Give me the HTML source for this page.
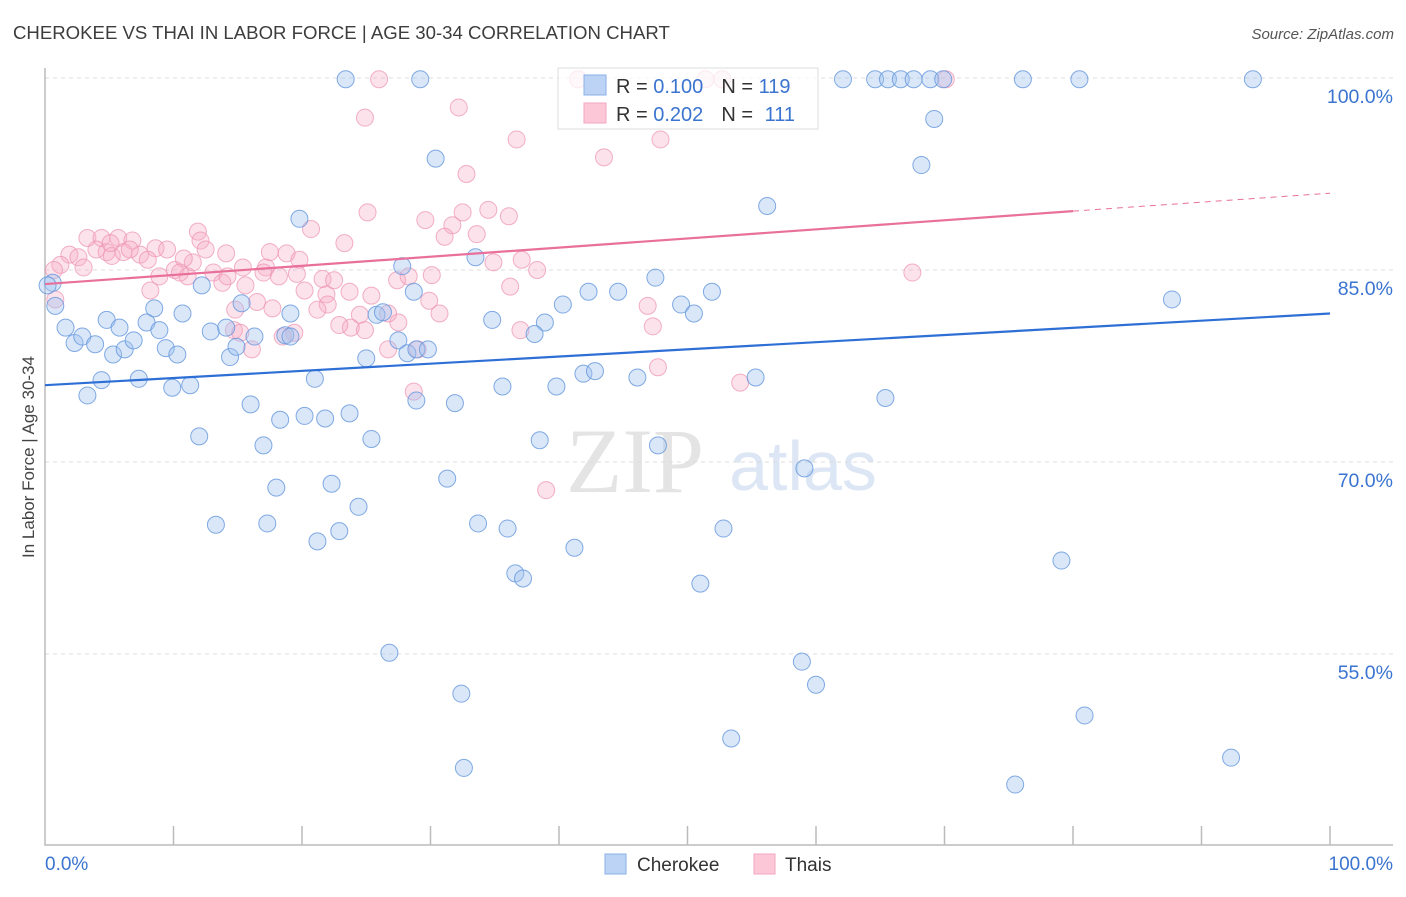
<!DOCTYPE html>
<html><head><meta charset="utf-8"><style>
html,body{margin:0;padding:0;background:#fff;}
body{width:1406px;height:892px;overflow:hidden;font-family:"Liberation Sans",sans-serif;}
</style></head><body>
<svg id="chart" width="1406" height="892" xmlns="http://www.w3.org/2000/svg" font-family="Liberation Sans, sans-serif">
<text x="13" y="39" font-size="18.6" fill="#3d3d3d">CHEROKEE VS THAI IN LABOR FORCE | AGE 30-34 CORRELATION CHART</text>
<text x="1394" y="39" font-size="15" fill="#555" font-style="italic" text-anchor="end">Source: ZipAtlas.com</text>
<text transform="translate(34,457) rotate(-90)" font-size="17" fill="#444" text-anchor="middle">In Labor Force | Age 30-34</text>
<g>
<text x="635" y="492" font-size="92" font-family="Liberation Serif, serif" fill="#e4e4e4" text-anchor="middle">ZIP</text>
<text x="803" y="490" font-size="70" fill="#dce6f4" text-anchor="middle">atlas</text>
</g>
<g id="grid"></g>
<g id="axes"></g>
<g id="pts"></g>
<g id="lines"></g>
<g>
<rect x="558" y="68" width="260" height="61" fill="rgba(255,255,255,0.75)" stroke="#ddd"/>
<rect x="584" y="75" width="22" height="20" fill="#bcd3f5" stroke="#8ab0e8"/>
<rect x="584" y="103" width="22" height="20" fill="#fcc8d8" stroke="#f2a6bf"/>
<text x="616" y="93" font-size="20" fill="#333">R = <tspan fill="#3a74d0">0.100</tspan><tspan dx="18">N = </tspan><tspan fill="#3a74d0">119</tspan></text>
<text x="616" y="121" font-size="20" fill="#333">R = <tspan fill="#3a74d0">0.202</tspan><tspan dx="18">N = </tspan><tspan fill="#3a74d0" dx="6">111</tspan></text>
</g>
<g>
<rect x="605" y="854" width="21" height="20" fill="#bcd3f5" stroke="#8ab0e8"/>
<text x="637" y="871" font-size="19" fill="#333">Cherokee</text>
<rect x="754" y="854" width="21" height="20" fill="#fcc8d8" stroke="#f2a6bf"/>
<text x="785" y="871" font-size="19" fill="#333">Thais</text>
</g>
</svg>
<script>
const cheX=[23.4,29.2,62.1,64.6,65.6,66.6,67.6,68.9,69.9,76.1,80.5,94.0,69.2,30.4,68.2,56.2,19.8,33.5,27.8,47.5,0.6,0.8,1.6,2.3,2.9,3.9,4.8,5.8,5.3,6.2,6.9,7.9,8.5,8.9,9.4,10.3,10.7,4.4,3.3,7.3,9.9,11.3,12.2,12.9,14.1,14.4,14.9,15.3,16.3,16.0,18.7,19.1,19.1,17.0,12.0,18.3,20.2,21.8,23.7,21.0,25.0,25.8,26.3,25.4,27.5,28.2,28.9,29.8,28.7,28.9,31.9,34.8,35.6,38.9,38.1,40.3,42.3,44.6,39.8,41.9,42.8,46.1,49.5,50.5,51.9,55.3,38.5,47.7,59.1,65.4,87.7,31.3,18.0,22.3,24.4,13.3,17.3,21.2,22.9,33.7,36.0,41.2,52.8,36.6,37.2,51.0,79.1,26.8,32.4,58.9,60.0,80.9,53.4,32.6,92.3,75.5,0.2];
const cheY=[99.9,99.9,99.9,99.9,99.9,99.9,99.9,99.9,99.9,99.9,99.9,99.9,96.8,93.7,93.2,90.0,89.0,86.0,85.3,84.4,84.0,82.2,80.5,79.3,79.8,79.2,81.1,80.5,78.4,78.8,79.5,80.9,82.0,80.3,78.9,78.4,81.6,76.4,75.2,76.5,75.8,76.0,83.8,80.2,80.5,78.2,79.0,82.4,79.8,74.5,79.9,81.6,79.8,71.3,72.0,73.3,73.6,73.4,73.8,76.5,78.1,81.5,81.7,71.8,79.5,78.5,78.8,78.8,83.3,74.8,74.6,81.1,75.9,80.9,80.0,82.3,83.3,83.3,75.9,76.9,77.1,76.6,82.3,81.6,83.3,76.6,71.7,71.3,69.5,75.0,82.7,68.7,68.0,68.3,66.5,65.1,65.2,63.8,64.6,65.2,64.8,63.3,64.8,61.3,60.9,60.5,62.3,55.1,51.9,54.4,52.6,50.2,48.4,46.1,46.9,44.8,83.8];
const thaX=[26.0,41.5,51.4,52.7,70.1,24.9,32.2,36.7,43.5,47.9,32.8,25.1,29.6,32.5,34.5,36.1,31.7,31.1,33.6,20.7,23.3,3.3,4.4,5.7,6.8,11.9,12.1,14.1,12.5,8.6,9.5,4.0,4.8,1.9,2.6,1.2,3.0,5.2,6.1,7.4,8.0,8.9,10.1,11.1,11.5,10.8,13.1,13.8,15.4,15.6,14.2,17.2,17.0,17.5,18.8,19.8,19.6,18.2,20.2,21.6,21.9,22.0,22.5,23.7,25.4,27.4,28.3,30.1,34.9,37.1,38.3,36.2,29.9,30.7,27.5,26.7,24.5,23.8,22.9,21.2,19.4,18.5,17.7,14.8,16.1,14.7,15.2,29.0,26.7,28.7,37.0,46.9,47.3,47.7,54.1,67.5,39.0,0.7,0.8,5.1,6.6,10.5,8.2,16.5,24.9];
const thaY=[99.9,99.9,99.9,99.9,99.9,96.9,97.7,95.2,93.8,95.2,92.5,89.5,88.9,89.5,89.7,89.2,88.5,87.6,87.8,88.2,87.1,87.5,87.5,87.5,87.3,88.0,87.3,86.3,86.6,86.7,86.6,86.6,86.4,86.2,86.0,85.4,85.2,86.1,86.4,86.2,85.8,84.5,85.0,84.5,85.6,85.9,84.8,84.0,85.2,83.8,84.5,85.2,84.8,86.4,86.3,85.8,84.7,84.5,83.4,84.3,83.1,82.3,84.2,83.3,83.0,84.2,84.5,84.6,85.6,85.8,85.0,83.7,82.6,81.6,80.9,81.6,81.5,80.5,80.7,81.9,80.1,79.8,82.0,81.9,78.8,80.3,80.1,78.8,78.8,75.5,80.3,82.2,80.6,77.4,76.2,84.8,67.8,85.0,82.7,87.1,86.6,84.8,83.4,82.5,80.3];
const yTicks=[100,85,70,55];
const yTickLabels=["100.0%","85.0%","70.0%","55.0%"];
const trendChe=[{x:0,y:76.0},{x:100,y:81.6}];
const trendTha=[{x:0,y:83.9},{x:80,y:89.6},{x:100,y:91.0}];

const NS="http://www.w3.org/2000/svg";
const X=v=>45+v*12.85;
const Y=v=>78+(100-v)*12.8;
function mk(tag,attrs,parent){const e=document.createElementNS(NS,tag);for(const k in attrs)e.setAttribute(k,attrs[k]);parent.appendChild(e);return e;}
const grid=document.getElementById('grid'),axes=document.getElementById('axes'),pts=document.getElementById('pts'),lines=document.getElementById('lines');
yTicks.forEach((t,i)=>{
  const l=mk('line',{x1:45,x2:1393,y1:Y(t),y2:Y(t),stroke:'#dcdcdc','stroke-dasharray':'4,4'},grid);
  
  
  const tx=mk('text',{x:1393,y:Y(t)+25,'font-size':19.5,fill:'#3a74d0','text-anchor':'end'},axes);
  tx.textContent=yTickLabels[i];
  
  
});
const ax=mk('path',{d:'M45 68 V845 H1393',fill:'none',stroke:'#bbb','stroke-width':1.5},axes);


for(let i=1;i<=10;i++){
  const tk=mk('line',{x1:X(i*10),x2:X(i*10),y1:826,y2:845,stroke:'#bbb','stroke-width':1.5},axes);
  
  
}
const x0=mk('text',{x:45,y:870,'font-size':19,fill:'#3a74d0'},axes);x0.textContent='0.0%';


const x1=mk('text',{x:1393,y:870,'font-size':19,fill:'#3a74d0','text-anchor':'end'},axes);x1.textContent='100.0%';


thaX.forEach((v,i)=>{
  const c=mk('circle',{cx:X(v),cy:Y(thaY[i]),r:8.5,fill:'rgba(247,172,198,0.35)',stroke:'rgba(238,150,180,0.75)','stroke-width':1},pts);
  
  
});
cheX.forEach((v,i)=>{
  const c=mk('circle',{cx:X(v),cy:Y(cheY[i]),r:8.5,fill:'rgba(160,194,240,0.4)',stroke:'rgba(100,150,220,0.8)','stroke-width':1},pts);
  
  
});
const lc=mk('line',{x1:X(trendChe[0].x),y1:Y(trendChe[0].y),x2:X(trendChe[1].x),y2:Y(trendChe[1].y),stroke:'#2e6fd6','stroke-width':2.2},lines);


const lt=mk('line',{x1:X(trendTha[0].x),y1:Y(trendTha[0].y),x2:X(trendTha[1].x),y2:Y(trendTha[1].y),stroke:'#e8709a','stroke-width':2.2},lines);


const ld=mk('line',{x1:X(trendTha[1].x),y1:Y(trendTha[1].y),x2:X(trendTha[2].x),y2:Y(trendTha[2].y),stroke:'#e8709a','stroke-width':1,'stroke-dasharray':'6,5'},lines);


</script>
</body></html>
